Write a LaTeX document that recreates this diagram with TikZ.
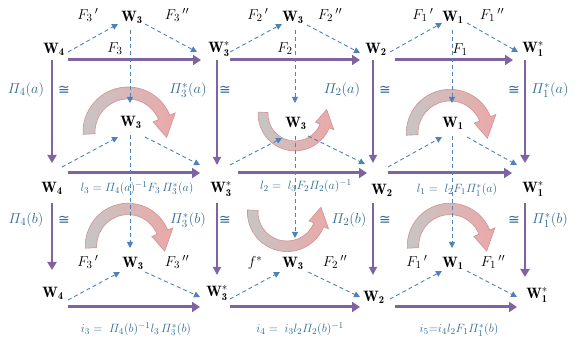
\documentclass[tikz,border=0pt]{standalone}
\usepackage{amsmath}
\usepackage{fontspec}
\newfontfamily\congfont{DejaVu Sans}
\usetikzlibrary{arrows.meta}
\definecolor{thkc}{HTML}{8064A2}
\definecolor{dshc}{HTML}{4F81BD}
\definecolor{labc}{HTML}{2E6A94}
\definecolor{pinkc}{HTML}{EBA8A8}
\definecolor{pinke}{HTML}{D39090}
\definecolor{grayc}{HTML}{C6C6C6}
\begin{document}
\begin{tikzpicture}[x=1pt,y=-1pt,
 wnode/.style={inner sep=0pt, font=\fontsize{15}{17}\selectfont},
 flab/.style={inner sep=0pt, font=\fontsize{15}{17}\selectfont},
 plab/.style={inner sep=0pt, text=labc, font=\fontsize{15.5}{17}\selectfont},
 cong/.style={inner sep=0pt, text=labc, font=\congfont\fontsize{14}{16}\selectfont},
 formula/.style={inner sep=0pt, text=labc, font=\fontsize{12.5}{14}\selectfont},
 thk/.style={draw=thkc, line width=3pt, -{Triangle[length=8pt,width=10pt]}},
 vthk/.style={draw=thkc, line width=2.2pt, -{Triangle[length=8pt,width=9pt]}},
 vthin/.style={draw=thkc, line width=1.3pt, -{Triangle[length=8pt,width=8pt]}},
 dsh/.style={draw=dshc, line width=0.9pt, dash pattern=on 4pt off 3pt, -{Triangle[length=6pt,width=6pt]}},
 bentarrow/.pic={
   \begin{scope}[yscale=-1]
   \path[left color=grayc, right color=pinkc, draw=pinke, line width=0.6pt]
     (183:45) arc[start angle=183, end angle=22, radius=45] -- (22:51) -- (-8:39) -- (22:27)
     -- (22:33) arc[start angle=22, end angle=183, radius=33] -- cycle;
   \end{scope}}
]
\useasboundingbox (0,0) rectangle (579,352);

% curved arrows
\pic at (128,132) {bentarrow};
\pic[yscale=-1, scale=0.82] at (295,114) {bentarrow};
\pic[scale=0.97] at (450,133) {bentarrow};
\pic[scale=0.95] at (128,246) {bentarrow};
\pic[yscale=-1, scale=0.88] at (287,212) {bentarrow};
\pic[scale=0.95] at (450,246) {bentarrow};

% main nodes
\node[wnode] (A1) at (54,49) {$\mathbf{W_4}$};
\node[wnode] (B1) at (219,49) {$\mathbf{W}_{\mathbf{3}}^{*}$};
\node[wnode] (C1) at (376,49) {$\mathbf{W_2}$};
\node[wnode] (D1) at (533,49) {$\mathbf{W}_{\mathbf{1}}^{*}$};
\node[wnode] (T1) at (132,17) {$\mathbf{W_3}$};
\node[wnode] (T2) at (293,17) {$\mathbf{W_3}$};
\node[wnode] (T3) at (453,17) {$\mathbf{W_1}$};
\node[wnode] (M1) at (131,122) {$\mathbf{W_3}$};
\node[wnode] (M2) at (296,123) {$\mathbf{W_3}$};
\node[wnode] (M3) at (453,123) {$\mathbf{W_1}$};
\node[wnode] (A2) at (52,188) {$\mathbf{W_4}$};
\node[wnode] (B2) at (221,189) {$\mathbf{W}_{\mathbf{3}}^{*}$};
\node[wnode] (C2) at (382,190) {$\mathbf{W_2}$};
\node[wnode] (D2) at (533,189) {$\mathbf{W}_{\mathbf{1}}^{*}$};
\node[wnode] (N1) at (133,263) {$\mathbf{W_3}$};
\node[wnode] (N2) at (293,263) {$\mathbf{W_3}$};
\node[wnode] (N3) at (453,263) {$\mathbf{W_1}$};
\node[wnode] (A3) at (53,293) {$\mathbf{W_4}$};
\node[wnode] (B3) at (217,293) {$\mathbf{W}_{\mathbf{3}}^{*}$};
\node[wnode] (C3) at (374,297) {$\mathbf{W_2}$};
\node[wnode] (D3) at (537,295) {$\mathbf{W}_{\mathbf{1}}^{*}$};

% row 1
\draw[thk] ([shift={(14,11)}]A1.center) -- ([shift={(-18,11)}]B1.center);
\draw[thk] ([shift={(11,11)}]B1.center) -- ([shift={(-16,11)}]C1.center);
\draw[thk] ([shift={(19,11)}]C1.center) -- ([shift={(-20,11)}]D1.center);
\draw[dsh] ([shift={(14,3)}]A1.center) -- ([shift={(-14,7)}]T1.center);
\draw[dsh] ([shift={(13,7)}]T1.center) -- ([shift={(-22,3)}]B1.center);
\draw[dsh] ([shift={(11,3)}]B1.center) -- ([shift={(-11,7)}]T2.center);
\draw[dsh] ([shift={(14,8)}]T2.center) -- ([shift={(-16,4)}]C1.center);
\draw[dsh] ([shift={(14,3)}]C1.center) -- ([shift={(-11,6)}]T3.center);
\draw[dsh] ([shift={(14,6)}]T3.center) -- ([shift={(-15,3)}]D1.center);
\draw[dsh] ([shift={(-2,13)}]T1.center) -- ([shift={(-1,-19)}]M1.center);
\draw[dsh] ([shift={(2,13)}]T2.center) -- ([shift={(-1,-20)}]M2.center);
\draw[dsh] ([shift={(-1,13)}]T3.center) -- ([shift={(-1,-20)}]M3.center);

% verticals row1 -> row2
\draw[vthk] ([shift={(-2,11)}]A1.center) -- ([shift={(0,-25)}]A2.center);
\draw[vthin] ([shift={(-2,11)}]B1.center) -- ([shift={(-4,-24)}]B2.center);
\draw[vthin] ([shift={(-3,11)}]C1.center) -- ([shift={(-9,-27)}]C2.center);
\draw[vthk] ([shift={(-8,11)}]D1.center) -- ([shift={(-8,-26)}]D2.center);

% row 2
\draw[dsh] ([shift={(10,-21)}]A2.center) -- ([shift={(-13,15)}]M1.center);
\draw[dsh] ([shift={(14,15)}]M1.center) -- ([shift={(-21,-24)}]B2.center);
\draw[dsh] ([shift={(9,-24)}]B2.center) -- ([shift={(-14,15)}]M2.center);
\draw[dsh] ([shift={(12,13)}]M2.center) -- ([shift={(-17,-26)}]C2.center);
\draw[dsh] ([shift={(6,-23)}]C2.center) -- ([shift={(-11,14)}]M3.center);
\draw[dsh] ([shift={(14,14)}]M3.center) -- ([shift={(-16,-24)}]D2.center);
\draw[thk] ([shift={(16,-15)}]A2.center) -- ([shift={(-21,-16)}]B2.center);
\draw[thk] ([shift={(17,-16)}]B2.center) -- ([shift={(-15,-17)}]C2.center);
\draw[thk] ([shift={(6,-17)}]C2.center) -- ([shift={(-21,-16)}]D2.center);
\draw[dsh] ([shift={(-1,13)}]M1.center) -- ([shift={(-3,-15)}]N1.center);
\draw[dsh] ([shift={(-1,13)}]M2.center) -- ([shift={(2,-25)}]N2.center);
\draw[dsh] ([shift={(-1,13)}]M3.center) -- ([shift={(-1,-15)}]N3.center);

% verticals row2 -> row3
\draw[vthk] ([shift={(0,15)}]A2.center) -- ([shift={(-1,-23)}]A3.center);
\draw[vthin] ([shift={(-4,14)}]B2.center) -- ([shift={(0,-18)}]B3.center);
\draw[vthin] ([shift={(-9,13)}]C2.center) -- ([shift={(-1,-22)}]C3.center);
\draw[vthk] ([shift={(-8,14)}]D2.center) -- ([shift={(-12,-18)}]D3.center);

% row 3
\draw[dsh] ([shift={(15,7)}]A3.center) -- ([shift={(-13,9)}]N1.center);
\draw[dsh] ([shift={(12,9)}]N1.center) -- ([shift={(-17,4)}]B3.center);
\draw[dsh] ([shift={(13,6)}]B3.center) -- ([shift={(-13,9)}]N2.center);
\draw[dsh] ([shift={(15,9)}]N2.center) -- ([shift={(-14,0)}]C3.center);
\draw[dsh] ([shift={(16,2)}]C3.center) -- ([shift={(-11,8)}]N3.center);
\draw[dsh] ([shift={(14,8)}]N3.center) -- ([shift={(-20,2)}]D3.center);
\draw[thk] ([shift={(15,14)}]A3.center) -- ([shift={(-17,14)}]B3.center);
\draw[thk] ([shift={(13,14)}]B3.center) -- ([shift={(-14,10)}]C3.center);
\draw[thk] ([shift={(21,10)}]C3.center) -- ([shift={(-20,12)}]D3.center);

% F labels
\node[flab] (f1) at (88,15) {$F_3\,'$};
\node[flab] (f2) at (177,15) {$F_3\,''$};
\node[flab] (f3) at (258,15) {$F_2\,'$};
\node[flab] (f4) at (330,15) {$F_2\,''$};
\node[flab] (f5) at (423,15) {$F_1\,'$};
\node[flab] (f6) at (492,15) {$F_1\,''$};
\node[flab] (g1) at (115,49) {$F_3$};
\node[flab] (g2) at (285,49) {$F_2$};
\node[flab] (g3) at (460,50) {$F_1$};
\node[flab] (h1) at (88,262) {$F_3\,'$};
\node[flab] (h2) at (177,262) {$F_3\,''$};
\node[flab] (h3) at (255,263) {$f^*$};
\node[flab] (h4) at (335,262) {$F_2\,''$};
\node[flab] (h5) at (417,262) {$F_1\,'$};
\node[flab] (h6) at (493,262) {$F_1\,''$};

% Pi labels
\node[plab] (p1) at (26,90) {$\varPi_4(a)$};
\node[cong] (q1) at (64,90) {≅};
\node[plab] (p2) at (188,90) {$\varPi^*_3(a)$};
\node[cong] (q2) at (225,90) {≅};
\node[plab] (p3) at (342,90) {$\varPi_2(a)$};
\node[cong] (q3) at (385,90) {≅};
\node[cong] (q4) at (514,90) {≅};
\node[plab] (p4) at (550,90) {$\varPi^*_1(a)$};
\node[plab] (p5) at (26,220) {$\varPi_4(b)$};
\node[cong] (q5) at (64,220) {≅};
\node[plab] (p6) at (188,220) {$\varPi^*_3(b)$};
\node[cong] (q6) at (225,220) {≅};
\node[plab] (p7) at (349,220) {$\varPi_2(b)$};
\node[cong] (q7) at (385,220) {≅};
\node[cong] (q8) at (514,220) {≅};
\node[plab] (p8) at (550,220) {$\varPi^*_1(b)$};

% formulas
\node[formula] (l3) at (137,188) {$l_3 = \varPi_4(a)^{-1}F_3\,\varPi^*_3(a)$};
\node[formula] (l2) at (306,186) {$l_2 =\; l_3F_2\varPi_2(a)^{-1}$};
\node[formula] (l1) at (457,190) {$l_1 =\; l_2F_1\varPi^*_1(a)$};
\node[formula] (i3) at (136,329) {$i_3 =\; \varPi_4(b)^{-1}l_3\,\varPi^*_3(b)$};
\node[formula] (i4) at (300,329) {$i_4 =\; i_3l_2\varPi_2(b)^{-1}$};
\node[formula] (i5) at (459,330) {$i_5{=}i_4l_2F_1\varPi^*_1(b)$};
\end{tikzpicture}
\end{document}
